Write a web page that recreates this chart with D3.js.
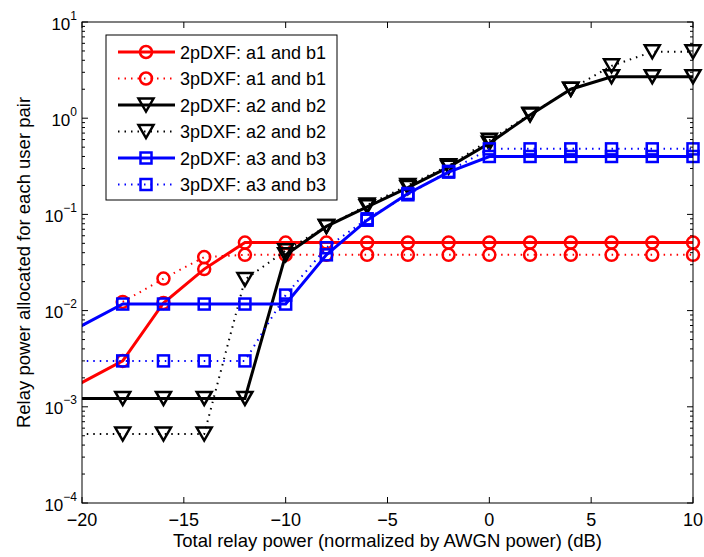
<!DOCTYPE html>
<html>
<head>
<meta charset="utf-8">
<script src="https://cdn.jsdelivr.net/npm/d3@7"></script>
<style>
  body { margin: 0; background: #fff; }
  svg { font-family: "Liberation Sans", Arial, sans-serif; }
</style>
</head>
<body>
<svg id="chart" width="704" height="557"></svg>
<script>
// x values (dB); -22 is an off-axis point so the curves enter from the left edge
const xVals = [-22, -18, -16, -14, -12, -10, -8, -6, -4, -2, 0, 2, 4, 6, 8, 10];

const red2 = [0.00107, 0.003, 0.012, 0.027, 0.051, 0.051, 0.051, 0.051, 0.051, 0.051, 0.051, 0.051, 0.051, 0.051, 0.051, 0.051];
const red3 = [null, 0.0123, 0.0215, 0.036, 0.038, 0.038, 0.038, 0.038, 0.038, 0.038, 0.038, 0.038, 0.038, 0.038, 0.038, 0.038];
const black2 = [0.00122, 0.00122, 0.00122, 0.00122, 0.00122, 0.038, 0.075, 0.12, 0.19, 0.31, 0.55, 1.08, 2.0, 2.7, 2.7, 2.7];
const black3 = [0.00052, 0.00052, 0.00052, 0.00052, 0.021, 0.042, 0.075, 0.125, 0.2, 0.32, 0.59, 1.1, 2.0, 3.5, 4.9, 4.9];
const blue2 = [0.0042, 0.0117, 0.0117, 0.0117, 0.0117, 0.0117, 0.038, 0.087, 0.165, 0.275, 0.4, 0.4, 0.4, 0.4, 0.4, 0.4];
const blue3 = [0.003, 0.003, 0.003, 0.003, 0.003, 0.0145, 0.045, 0.09, 0.16, 0.28, 0.48, 0.48, 0.48, 0.48, 0.48, 0.48];

const xTicks = [-20, -15, -10, -5, 0, 5, 10];
const yExps = [-4, -3, -2, -1, 0, 1];

const series = [
    {name: '2pDXF: a1 and b1', values: red2, color: '#ff0000', dotted: false, marker: 'circle'},
    {name: '3pDXF: a1 and b1', values: red3, color: '#ff0000', dotted: true, marker: 'circle'},
    {name: '2pDXF: a2 and b2', values: black2, color: '#000000', dotted: false, marker: 'triangle'},
    {name: '3pDXF: a2 and b2', values: black3, color: '#000000', dotted: true, marker: 'triangle'},
    {name: '2pDXF: a3 and b3', values: blue2, color: '#0000ff', dotted: false, marker: 'square'},
    {name: '3pDXF: a3 and b3', values: blue3, color: '#0000ff', dotted: true, marker: 'square'},
];

const margin = {left: 82, top: 22, right: 11, bottom: 54};
const width = 704 - margin.left - margin.right;
const height = 557 - margin.top - margin.bottom;

const svg = d3.select('#chart');
const g = svg.append('g').attr('transform', `translate(${margin.left},${margin.top})`);

const x = d3.scaleLinear().domain([-20, 10]).range([0, width]);
const y = d3.scaleLog().domain([1e-4, 10]).range([height, 0]);

g.append('defs').append('clipPath').attr('id', 'plot-clip')
    .append('rect').attr('width', width).attr('height', height);

// ticks on all four sides, pointing inwards
const minorTicks = [];
yExps.slice(0, -1).forEach(e => {
    for (let k = 2; k <= 9; k++) minorTicks.push(k * Math.pow(10, e));
});
const majorY = yExps.map(e => Math.pow(10, e));

const tickG = g.append('g').attr('stroke', '#000').attr('stroke-width', 1);
xTicks.forEach(t => {
    tickG.append('line').attr('x1', x(t)).attr('x2', x(t)).attr('y1', height).attr('y2', height - 6);
    tickG.append('line').attr('x1', x(t)).attr('x2', x(t)).attr('y1', 0).attr('y2', 6);
});
majorY.forEach(v => {
    tickG.append('line').attr('x1', 0).attr('x2', 6).attr('y1', y(v)).attr('y2', y(v));
    tickG.append('line').attr('x1', width).attr('x2', width - 6).attr('y1', y(v)).attr('y2', y(v));
});
minorTicks.forEach(v => {
    tickG.append('line').attr('x1', 0).attr('x2', 3).attr('y1', y(v)).attr('y2', y(v));
    tickG.append('line').attr('x1', width).attr('x2', width - 3).attr('y1', y(v)).attr('y2', y(v));
});

// tick labels
xTicks.forEach(t => {
    g.append('text')
        .attr('x', x(t))
        .attr('y', height + 23)
        .attr('text-anchor', 'middle')
        .style('font-size', '18px')
        .text(t < 0 ? '\u2212' + Math.abs(t) : t);
});
yExps.forEach(e => {
    const lbl = g.append('text')
        .attr('x', -5)
        .attr('y', y(Math.pow(10, e)) + 7.5)
        .attr('text-anchor', 'end')
        .style('font-size', '17px');
    lbl.append('tspan').text('10');
    lbl.append('tspan')
        .attr('dy', -10)
        .style('font-size', '12px')
        .text(e < 0 ? '\u2212' + Math.abs(e) : e);
});

// axis titles
svg.append('text')
    .attr('x', margin.left + width / 2)
    .attr('y', 547)
    .attr('text-anchor', 'middle')
    .style('font-size', '18.5px')
    .text('Total relay power (normalized by AWGN power) (dB)');
svg.append('text')
    .attr('transform', `translate(30,${margin.top + height / 2}) rotate(-90)`)
    .attr('text-anchor', 'middle')
    .style('font-size', '18.5px')
    .text('Relay power allocated for each user pair');

// lines
const line = d3.line()
    .defined(d => d.v !== null)
    .x(d => x(d.x))
    .y(d => y(d.v));

function drawMarker(sel, type, color) {
    if (type === 'circle') {
        sel.append('circle').attr('r', 6);
    } else if (type === 'triangle') {
        sel.append('path').attr('d', 'M-7.5,-6.5L7.5,-6.5L0,6.5Z');
    } else {
        sel.append('rect').attr('x', -5.5).attr('y', -5.5).attr('width', 11).attr('height', 11);
    }
    sel.selectAll('*')
        .attr('fill', 'none')
        .attr('stroke', color)
        .attr('stroke-width', 2.5);
}

series.forEach(s => {
    const pts = xVals.map((xv, i) => ({x: xv, v: s.values[i]}));
    g.append('path')
        .datum(pts)
        .attr('clip-path', 'url(#plot-clip)')
        .attr('fill', 'none')
        .attr('stroke', s.color)
        .attr('stroke-width', s.dotted ? 2 : 3)
        .attr('stroke-dasharray', s.dotted ? '1.5,5' : null)
        .attr('d', line);

    pts.filter(p => p.v !== null && p.x >= x.domain()[0]).forEach(p => {
        const m = g.append('g').attr('transform', `translate(${x(p.x)},${y(p.v)})`);
        drawMarker(m, s.marker, s.color);
    });
});

// plot box
g.append('rect')
    .attr('width', width)
    .attr('height', height)
    .attr('fill', 'none')
    .attr('stroke', '#000')
    .attr('stroke-width', 1);

// legend
const legend = svg.append('g').attr('transform', 'translate(106,35)');
legend.append('rect')
    .attr('width', 231)
    .attr('height', 165)
    .attr('fill', '#fff')
    .attr('stroke', '#000')
    .attr('stroke-width', 1);

series.forEach((s, i) => {
    const row = legend.append('g').attr('transform', `translate(0,${17 + i * 26.5})`);
    row.append('line')
        .attr('x1', 12).attr('x2', 69)
        .attr('stroke', s.color)
        .attr('stroke-width', s.dotted ? 2 : 3)
        .attr('stroke-dasharray', s.dotted ? '1.5,5' : null);
    const m = row.append('g').attr('transform', 'translate(40,0)');
    drawMarker(m, s.marker, s.color);
    row.append('text')
        .attr('x', 74)
        .attr('y', 6.5)
        .style('font-size', '18px')
        .text(s.name);
});
</script>
</body>
</html>
